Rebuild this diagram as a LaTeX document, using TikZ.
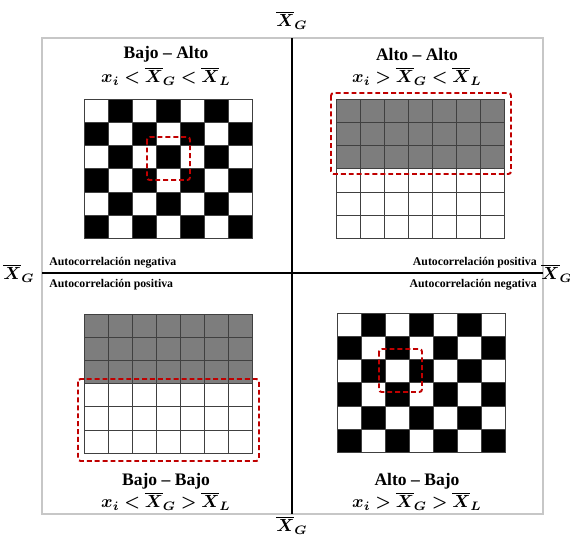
\documentclass[tikz,border=0pt]{standalone}
\usepackage{amsmath}
\usepackage{bm}
\usepackage{fontspec}
\setmainfont{Liberation Serif}

\definecolor{rojo}{RGB}{192,0,0}
\definecolor{gris}{RGB}{125,125,125}

\tikzset{
  marco/.style={draw=black!22, line width=1pt},
  eje/.style={line width=1.5pt},
  celda/.style={draw=black!75, line width=0.5pt},
  caja/.style={draw=rojo, line width=1.1pt, dash pattern=on 2.8pt off 1.7pt, rounded corners=1.5pt},
  titulo/.style={font=\bfseries\fontsize{10}{12}\selectfont, inner sep=0pt},
  formula/.style={font=\fontsize{10}{12}\selectfont, inner sep=0pt},
  autocor/.style={font=\bfseries\fontsize{6.7}{8}\selectfont, inner sep=0pt},
  eti/.style={font=\fontsize{10}{12}\selectfont, inner sep=0pt},
}

\begin{document}
\begin{tikzpicture}[x=0.02cm, y=-0.02cm]
    \useasboundingbox (0,0) rectangle (570,534);
    % marco:
    \draw[marco] (42,38) rectangle (543,514);

    % ejes:
    \coordinate (arriba) at (292,38);
    \coordinate (abajo) at (292,514);
    \coordinate (izq) at (42,273);
    \coordinate (der) at (543,273);
    \draw[eje] (arriba) -- (abajo); % eje vertical
    \draw[eje] (izq) -- (der); % eje horizontal
    \node[eti] (xgArriba) at (292,20) {$\boldsymbol{\overline{X}_G}$};
    \node[eti] (xgAbajo) at (292,525) {$\boldsymbol{\overline{X}_G}$};
    \node[eti] (xgIzq) at (19,273) {$\boldsymbol{\overline{X}_G}$};
    \node[eti] (xgDer) at (557,273) {$\boldsymbol{\overline{X}_G}$};

    % autocorrelacion:
    \node[autocor, anchor=west] (negIzq) at (49,263) {Autocorrelación negativa};
    \node[autocor, anchor=west] (posIzq) at (49,285) {Autocorrelación positiva};
    \node[autocor, anchor=east] (posDer) at (537,263) {Autocorrelación positiva};
    \node[autocor, anchor=east] (negDer) at (537,285) {Autocorrelación negativa};

    % Bajo - Alto (tablero):
    \foreach \c in {0,...,6}
      \foreach \r in {0,...,5} {
        \pgfmathtruncatemacro{\p}{mod(\c+\r,2)}
        \ifnum\p=1
          \filldraw[celda, fill=black] (84+24*\c,99+23.3*\r) rectangle ++(24,23.3);
        \else
          \draw[celda] (84+24*\c,99+23.3*\r) rectangle ++(24,23.3);
        \fi
      }
    \draw[caja] (147,137) rectangle (190,180);
    \node[titulo] (tBA) at (166,54) {Bajo -- Alto};
    \node[formula] (fBA) at (166,76) {$\boldsymbol{x_i < \overline{X}_G < \overline{X}_L}$};

    % Alto - Alto (gris arriba):
    \foreach \c in {0,...,6}
      \foreach \r in {0,...,5} {
        \ifnum\r<3
          \filldraw[celda, fill=gris] (336+24*\c,99+23.3*\r) rectangle ++(24,23.3);
        \else
          \draw[celda] (336+24*\c,99+23.3*\r) rectangle ++(24,23.3);
        \fi
      }
    \draw[caja] (331,93) rectangle (511,174);
    \node[titulo] (tAA) at (417,54) {Alto -- Alto};
    \node[formula] (fAA) at (417,76) {$\boldsymbol{x_i > \overline{X}_G < \overline{X}_L}$};

    % Bajo - Bajo (gris arriba):
    \foreach \c in {0,...,6}
      \foreach \r in {0,...,5} {
        \ifnum\r<3
          \filldraw[celda, fill=gris] (84+24*\c,314+23.2*\r) rectangle ++(24,23.2);
        \else
          \draw[celda] (84+24*\c,314+23.2*\r) rectangle ++(24,23.2);
        \fi
      }
    \draw[caja] (78,379) rectangle (259,461);
    \node[titulo] (tBB) at (166,481) {Bajo -- Bajo};
    \node[formula] (fBB) at (166,501) {$\boldsymbol{x_i < \overline{X}_G > \overline{X}_L}$};

    % Alto - Bajo (tablero):
    \foreach \c in {0,...,6}
      \foreach \r in {0,...,5} {
        \pgfmathtruncatemacro{\p}{mod(\c+\r,2)}
        \ifnum\p=1
          \filldraw[celda, fill=black] (337+24*\c,313+23.3*\r) rectangle ++(24,23.3);
        \else
          \draw[celda] (337+24*\c,313+23.3*\r) rectangle ++(24,23.3);
        \fi
      }
    \draw[caja] (379,349) rectangle (422,392);
    \node[titulo] (tAB) at (417,481) {Alto -- Bajo};
    \node[formula] (fAB) at (417,501) {$\boldsymbol{x_i > \overline{X}_G > \overline{X}_L}$};
\end{tikzpicture}
\end{document}
